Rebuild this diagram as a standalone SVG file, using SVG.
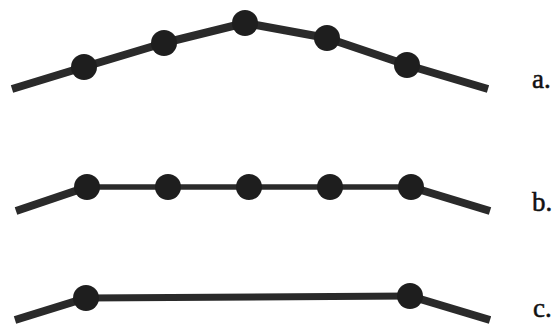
<svg xmlns="http://www.w3.org/2000/svg" width="556" height="326" viewBox="0 0 556 326">
<style>
.ln{fill:none;stroke:#2a2a2a;stroke-linejoin:round}
.thick{stroke-width:8}
.thin{stroke-width:5.5}
.nd{fill:#1e1e1e}
.lb{font-family:"Liberation Serif","Times New Roman",serif;font-size:27px;fill:#111;stroke:#111;stroke-width:0.5}
</style>
<rect width="556" height="326" fill="#fff"/>
<g id="connectors">
<polyline class="ln thick" points="12,89 84,67 164,43 245,23 327,38 407,65 488,89"/>
<polyline class="ln thick" points="16,211 87,187"/>
<polyline class="ln thin" points="87,187 411,187"/>
<polyline class="ln thick" points="411,187 490,211"/>
<polyline class="ln thick" points="15,320 86,298"/>
<polyline class="ln" stroke-width="7" points="86,298 410,296"/>
<polyline class="ln thick" points="410,296 490,320"/>
</g>
<g id="a">
<circle id="a1" class="nd" cx="84" cy="67" r="13"/>
<circle id="a2" class="nd" cx="164" cy="43" r="13"/>
<circle id="a3" class="nd" cx="245" cy="23" r="13"/>
<circle id="a4" class="nd" cx="327" cy="38" r="13"/>
<circle id="a5" class="nd" cx="407" cy="65" r="13"/>
<text class="lb" x="532" y="88">a.</text>
</g>
<g id="b">
<circle id="b1" class="nd" cx="87" cy="187" r="13"/>
<circle id="b2" class="nd" cx="168" cy="187" r="13"/>
<circle id="b3" class="nd" cx="249" cy="187" r="13"/>
<circle id="b4" class="nd" cx="330" cy="187" r="13"/>
<circle id="b5" class="nd" cx="411" cy="187" r="13"/>
<text class="lb" x="532" y="211">b.</text>
</g>
<g id="c">
<circle id="c1" class="nd" cx="86" cy="298" r="13"/>
<circle id="c2" class="nd" cx="410" cy="296" r="13"/>
<text class="lb" x="533" y="317">c.</text>
</g>
</svg>
